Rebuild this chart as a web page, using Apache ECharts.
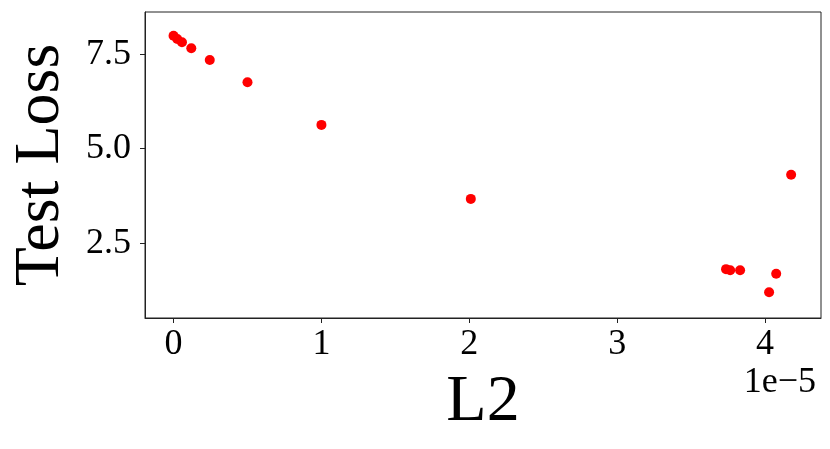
<!DOCTYPE html>
<html>
<head>
<meta charset="utf-8">
<script src="https://cdn.jsdelivr.net/npm/echarts@6/dist/echarts.min.js"></script>
<style>html,body{margin:0;padding:0;background:#fff;}#c{width:830px;height:449px;}</style>
</head>
<body>
<div id="c"></div>
<script>
// L2 values in units of 1e-5
const l2Values = [0, 0.025, 0.057, 0.12, 0.245, 0.5, 1.0, 2.01, 3.736, 3.764, 3.831, 4.027, 4.075, 4.176];
const testLoss = [7.99, 7.905, 7.817, 7.66, 7.35, 6.76, 5.63, 3.67, 1.81, 1.78, 1.78, 1.20, 1.69, 4.31];
const xTicks = [0, 1, 2, 3, 4];
const yTicks = [2.5, 5.0, 7.5];
const xName = 'L2';
const yName = 'Test Loss';
const offsetText = '1e\u22125';

const font = '"Liberation Serif", "DejaVu Serif", serif';
const chart = echarts.init(document.getElementById('c'));
const points = l2Values.map((v, i) => [v, testLoss[i]]);
chart.setOption({
  animation: false,
  backgroundColor: '#fff',
  grid: { left: 145, right: 9, top: 12, bottom: 131, show: true, borderColor: '#222', borderWidth: 1,
    containLabel: false, outerBoundsMode: 'none' },
  xAxis: {
    type: 'value', min: -0.193, max: 4.378,
    name: xName, nameLocation: 'middle', nameGap: 52,
    nameTextStyle: { fontFamily: font, fontSize: 66, color: '#000' },
    axisLine: { show: true, onZero: false, lineStyle: { color: '#222', width: 1 } },
    axisTick: { show: true, inside: false, length: 5, customValues: xTicks, lineStyle: { color: '#222' } },
    axisLabel: { customValues: xTicks, fontFamily: font, fontSize: 36, color: '#000', margin: 9,
      formatter: v => String(Math.round(v)) },
    splitLine: { show: false }
  },
  yAxis: {
    type: 'value', min: 0.516, max: 8.62,
    name: yName, nameLocation: 'middle', nameGap: 72,
    nameTextStyle: { fontFamily: font, fontSize: 64, color: '#000' },
    axisLine: { show: true, onZero: false, lineStyle: { color: '#222', width: 1 } },
    axisTick: { show: true, inside: false, length: 5, customValues: yTicks, lineStyle: { color: '#222' } },
    axisLabel: { customValues: yTicks, fontFamily: font, fontSize: 36, color: '#000', margin: 14,
      formatter: v => v.toFixed(1) },
    splitLine: { show: false }
  },
  graphic: [{
    type: 'text', right: 14, top: 365,
    style: { text: offsetText, fontFamily: font, fontSize: 36, fill: '#000' }
  }],
  series: [{
    type: 'scatter', data: points, symbol: 'circle', symbolSize: 10,
    itemStyle: { color: '#ff0000', opacity: 1 }
  }]
});
</script>
</body>
</html>
